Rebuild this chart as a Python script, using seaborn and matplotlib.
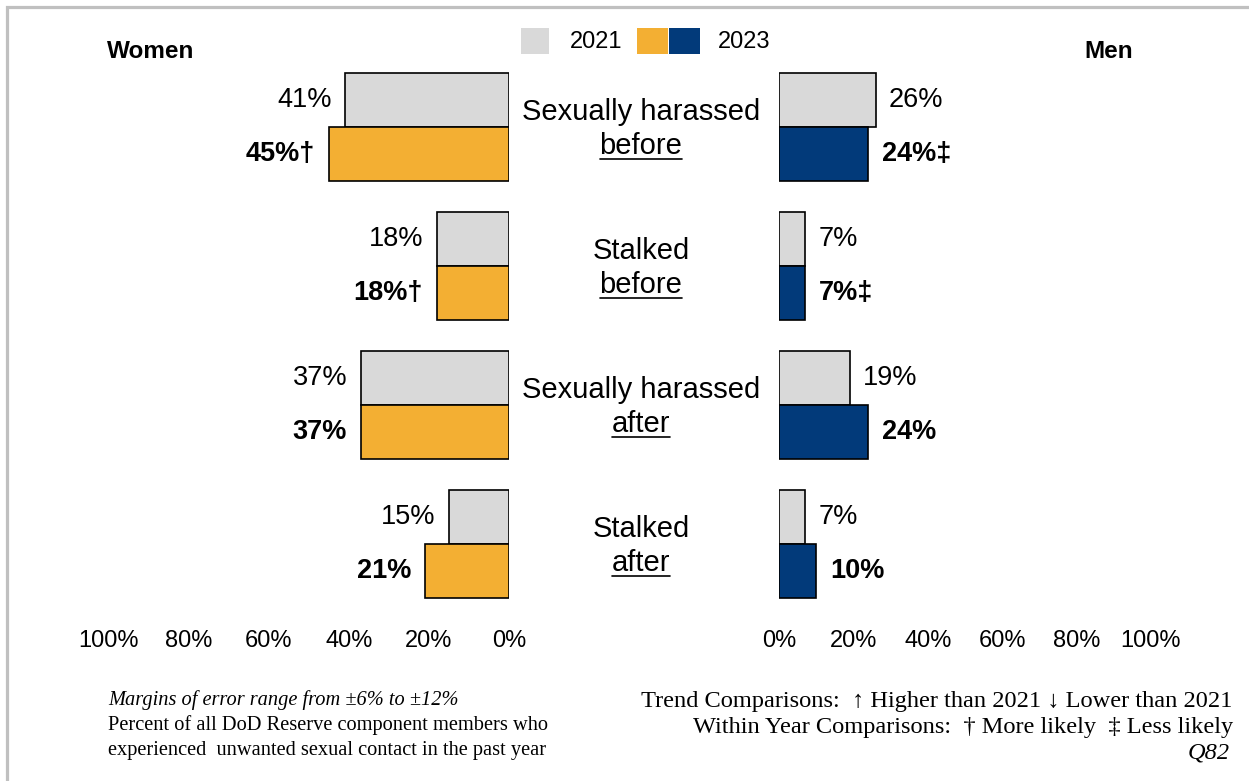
import matplotlib
matplotlib.use("Agg")
import matplotlib.pyplot as plt
import matplotlib.transforms as mtransforms
from matplotlib.patches import Rectangle
from matplotlib.lines import Line2D
import seaborn as sns
import pandas as pd

# ---- data -------------------------------------------------------------
label_top = ["Sexually harassed", "Stalked", "Sexually harassed", "Stalked"]
label_timing = ["before", "before", "after", "after"]
years = ["2021", "2023"]

women_2021 = [41, 18, 37, 15]
women_2023 = [45, 18, 37, 21]
women_2023_marks = ["\u2020", "\u2020", "", ""]

men_2021 = [26, 7, 19, 7]
men_2023 = [24, 7, 24, 10]
men_2023_marks = ["\u2021", "\u2021", "", ""]

x_ticks = [0, 20, 40, 60, 80, 100]

# ---- styling ----------------------------------------------------------
GRAY = "#d9d9d9"
ORANGE = "#f3af33"
NAVY = "#023a7a"
SERIF = ["Liberation Serif", "DejaVu Serif"]

sns.set_theme(style="white")
plt.rcParams["font.family"] = ["Liberation Sans", "DejaVu Sans"]
plt.rcParams["text.color"] = "black"
plt.rcParams["xtick.color"] = "black"

W, H = 1249, 781
fig = plt.figure(figsize=(W / 100, H / 100), dpi=100)


def fx(px):
    return px / W


def fy(py):
    return 1 - py / H


keys = [f"{a} {b}" for a, b in zip(label_top, label_timing)]


def frame(v2021, v2023):
    rows = []
    for k, a, b in zip(keys, v2021, v2023):
        rows.append({"group": k, "year": years[0], "value": a})
        rows.append({"group": k, "year": years[1], "value": b})
    return pd.DataFrame(rows)


df_w = frame(women_2021, women_2023)
df_m = frame(men_2021, men_2023)

ax_top, ax_bot = 43.6, 627.4
ax_w = fig.add_axes([fx(109), fy(ax_bot), 400 / W, (ax_bot - ax_top) / H])
ax_m = fig.add_axes([fx(779), fy(ax_bot), 372 / W, (ax_bot - ax_top) / H])

panels = [
    (ax_w, df_w, ORANGE, women_2021, women_2023, women_2023_marks, (100, 0), -1),
    (ax_m, df_m, NAVY, men_2021, men_2023, men_2023_marks, (0, 100), 1),
]

for ax, df, c23, v21, v23, marks, xlim, side in panels:
    sns.barplot(
        data=df, x="value", y="group", hue="year", order=keys,
        hue_order=years, palette={years[0]: GRAY, years[1]: c23},
        width=0.78, edgecolor="black", linewidth=1.2, saturation=1,
        orient="h", ax=ax, legend=False, errorbar=None,
    )
    ax.set_xlim(*xlim)
    ax.set_ylim(3.6, -0.6)
    ax.set_xticks(x_ticks)
    ax.set_xticklabels([f"{t}%" for t in x_ticks], fontsize=17)
    ax.tick_params(axis="x", length=0, pad=2)
    ax.set_yticks([])
    ax.set_xlabel("")
    ax.set_ylabel("")
    sns.despine(ax=ax, left=True, bottom=True)
    ax.patch.set_alpha(0)

    ha = "right" if side < 0 else "left"
    for bar, val in zip(ax.containers[0], v21):
        yc = bar.get_y() + bar.get_height() / 2
        ax.annotate(f"{val}%", xy=(val, yc), xytext=(9.5 * side, 0),
                    textcoords="offset points", ha=ha, va="center",
                    fontsize=19.5)
    for bar, val, mk in zip(ax.containers[1], v23, marks):
        yc = bar.get_y() + bar.get_height() / 2
        ax.annotate(f"{val}%{mk}", xy=(val, yc), xytext=(10 * side, 0),
                    textcoords="offset points", ha=ha, va="center",
                    fontsize=19.5, fontweight="bold")

# ---- centre category labels ------------------------------------------
trans = mtransforms.blended_transform_factory(fig.transFigure, ax_w.transData)
timing_texts = []
for i, (top, timing) in enumerate(zip(label_top, label_timing)):
    ax_w.annotate(top, xy=(fx(641), i), xycoords=trans, xytext=(0, 11),
                  textcoords="offset points", ha="center", va="center",
                  fontsize=21, annotation_clip=False)
    t = ax_w.annotate(timing, xy=(fx(641), i), xycoords=trans,
                      xytext=(0, -19.4), textcoords="offset points",
                      ha="center", va="baseline", fontsize=21,
                      annotation_clip=False)
    timing_texts.append((i, t))

# ---- panel titles ------------------------------------------------------
fig.text(fx(150.5), fy(52), "Women", ha="center", va="center",
         fontsize=17.5, fontweight="bold")
fig.text(fx(1108.5), fy(52), "Men", ha="center", va="center",
         fontsize=17.5, fontweight="bold")

# ---- legend ------------------------------------------------------------
fig.add_artist(Rectangle((fx(521), fy(54)), 28 / W, 26 / H,
                         transform=fig.transFigure, facecolor=GRAY,
                         edgecolor="none"))
fig.text(fx(570), fy(41.5), years[0], ha="left", va="center", fontsize=17)
fig.add_artist(Rectangle((fx(637), fy(54)), 31 / W, 26 / H,
                         transform=fig.transFigure, facecolor=ORANGE,
                         edgecolor="none"))
fig.add_artist(Rectangle((fx(668.5), fy(54)), 31.5 / W, 26 / H,
                         transform=fig.transFigure, facecolor=NAVY,
                         edgecolor="none"))
fig.text(fx(718), fy(41.5), years[1], ha="left", va="center", fontsize=17)

# ---- footnotes ---------------------------------------------------------
fig.text(fx(108), fy(705), "Margins of error range from \u00b16% to \u00b112%",
         ha="left", va="baseline", fontsize=14.7, style="italic", family=SERIF)
fig.text(fx(108), fy(730), "Percent of all DoD Reserve component members who",
         ha="left", va="baseline", fontsize=14.7, family=SERIF)
fig.text(fx(108), fy(755), "experienced  unwanted sexual contact in the past year",
         ha="left", va="baseline", fontsize=14.7, family=SERIF)

fig.text(fx(1232), fy(707),
         "Trend Comparisons:  \u2191 Higher than 2021 \u2193 Lower than 2021",
         ha="right", va="baseline", fontsize=17.6, family=SERIF)
fig.text(fx(1233), fy(733),
         "Within Year Comparisons:  \u2020 More likely  \u2021 Less likely",
         ha="right", va="baseline", fontsize=17.6, family=SERIF)
fig.text(fx(1230), fy(759), "Q82", ha="right", va="baseline", fontsize=17.6,
         style="italic", family=SERIF)

# ---- outer frame (top and left edges) ---------------------------------
fig.add_artist(Line2D([fx(7), fx(7), 1.0], [0.0, fy(6.5), fy(6.5)],
                      transform=fig.transFigure, color="#c0c0c0", lw=2.3,
                      solid_joinstyle="miter"))

# ---- underline the timing words ---------------------------------------
fig.canvas.draw()
renderer = fig.canvas.get_renderer()
inv = fig.transFigure.inverted()
for i, t in timing_texts:
    bb = t.get_window_extent(renderer)
    yc = ax_w.transData.transform((0, i))[1]
    yu = yc - 32
    (x0, y0), (x1, _) = inv.transform([(bb.x0, yu), (bb.x1, yu)])
    fig.add_artist(Line2D([x0, x1], [y0, y0], transform=fig.transFigure,
                          color="black", lw=1.2))

fig.savefig("out.png", dpi=100)
